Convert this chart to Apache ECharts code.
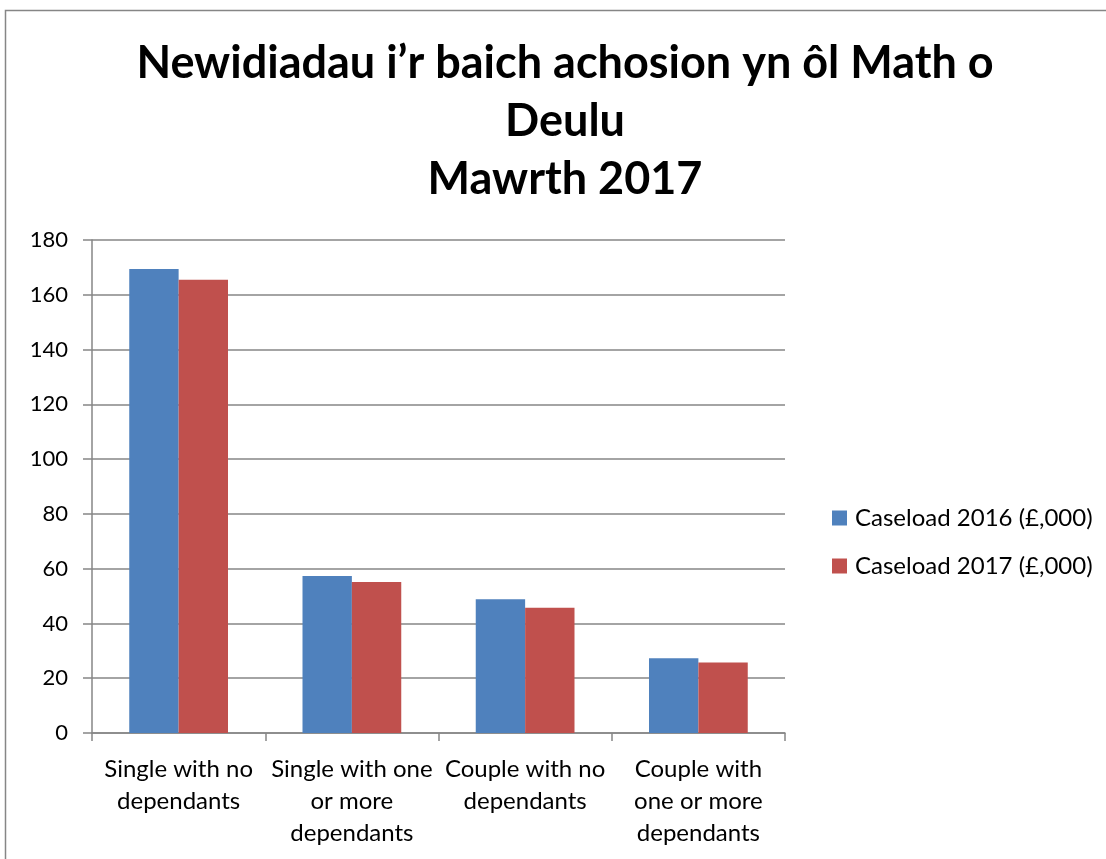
<!DOCTYPE html>
<html>
<head>
<meta charset="utf-8">
<script src="https://cdn.jsdelivr.net/npm/echarts@6/dist/echarts.min.js"></script>
<style>
html,body{margin:0;padding:0;background:#fff;}
#chart{width:1106px;height:859px;}
</style>
</head>
<body>
<div id="chart"></div>
<script>
const titleLines = ['Newidiadau i’r baich achosion yn ôl Math o', 'Deulu', 'Mawrth 2017'];
const categories = ['Single with no\ndependants', 'Single with one\nor more\ndependants', 'Couple with no\ndependants', 'Couple with\none or more\ndependants'];
const seriesNames = ['Caseload 2016 (£,000)', 'Caseload 2017 (£,000)'];
const caseload2016 = [169.4, 57.3, 48.8, 27.3];
const caseload2017 = [165.5, 55.1, 45.7, 25.7];
const yTicks = { min: 0, max: 180, interval: 20 };

const FONT = 'Lato';
const AXIS = '#868686';

const chart = echarts.init(document.getElementById('chart'), null, { renderer: 'canvas' });
chart.setOption({
  backgroundColor: '#ffffff',
  animation: false,
  textStyle: { fontFamily: FONT },
  graphic: [
    { type: 'rect', shape: { x: 5.5, y: 10.5, width: 1200, height: 1000 }, style: { fill: 'none', stroke: AXIS, lineWidth: 1.5 }, silent: true },
    { type: 'text', x: 565, y: 34, style: { text: titleLines.join('\n'), fontFamily: FONT, fontWeight: 'bold', fontSize: 45, lineHeight: 58, fill: '#000', align: 'center', verticalAlign: 'top' } }
  ],
  legend: {
    orient: 'vertical',
    left: 827,
    top: 501,
    itemWidth: 15,
    itemHeight: 15,
    itemGap: 24,
    icon: 'rect',
    data: seriesNames,
    textStyle: { fontFamily: FONT, fontSize: 24, lineHeight: 24, color: '#000', padding: [0, 0, 0, 3] }
  },
  grid: { left: 92, right: 321, top: 240, bottom: 126, containLabel: false },
  xAxis: {
    type: 'category',
    data: categories,
    axisLine: { show: true, lineStyle: { color: AXIS, width: 1.5 } },
    axisTick: { show: true, length: 8, lineStyle: { color: AXIS, width: 1.5 } },
    axisLabel: { interval: 0, margin: 20, fontFamily: FONT, fontSize: 24, lineHeight: 32, color: '#000' },
    splitLine: { show: false }
  },
  yAxis: {
    type: 'value',
    min: yTicks.min,
    max: yTicks.max,
    interval: yTicks.interval,
    axisLine: { show: true, lineStyle: { color: AXIS, width: 1.5 } },
    axisTick: { show: true, length: 9, lineStyle: { color: AXIS, width: 1.5 } },
    axisLabel: { margin: 24, fontFamily: FONT, fontSize: 22, color: '#000' },
    splitLine: { show: true, lineStyle: { color: AXIS, width: 1.5 } }
  },
  series: [
    { name: seriesNames[0], type: 'bar', data: caseload2016, barGap: '0%', barCategoryGap: '43%', itemStyle: { color: '#4F81BD' } },
    { name: seriesNames[1], type: 'bar', data: caseload2017, barGap: '0%', barCategoryGap: '43%', itemStyle: { color: '#C0504D' } }
  ]
});
</script>
</body>
</html>
